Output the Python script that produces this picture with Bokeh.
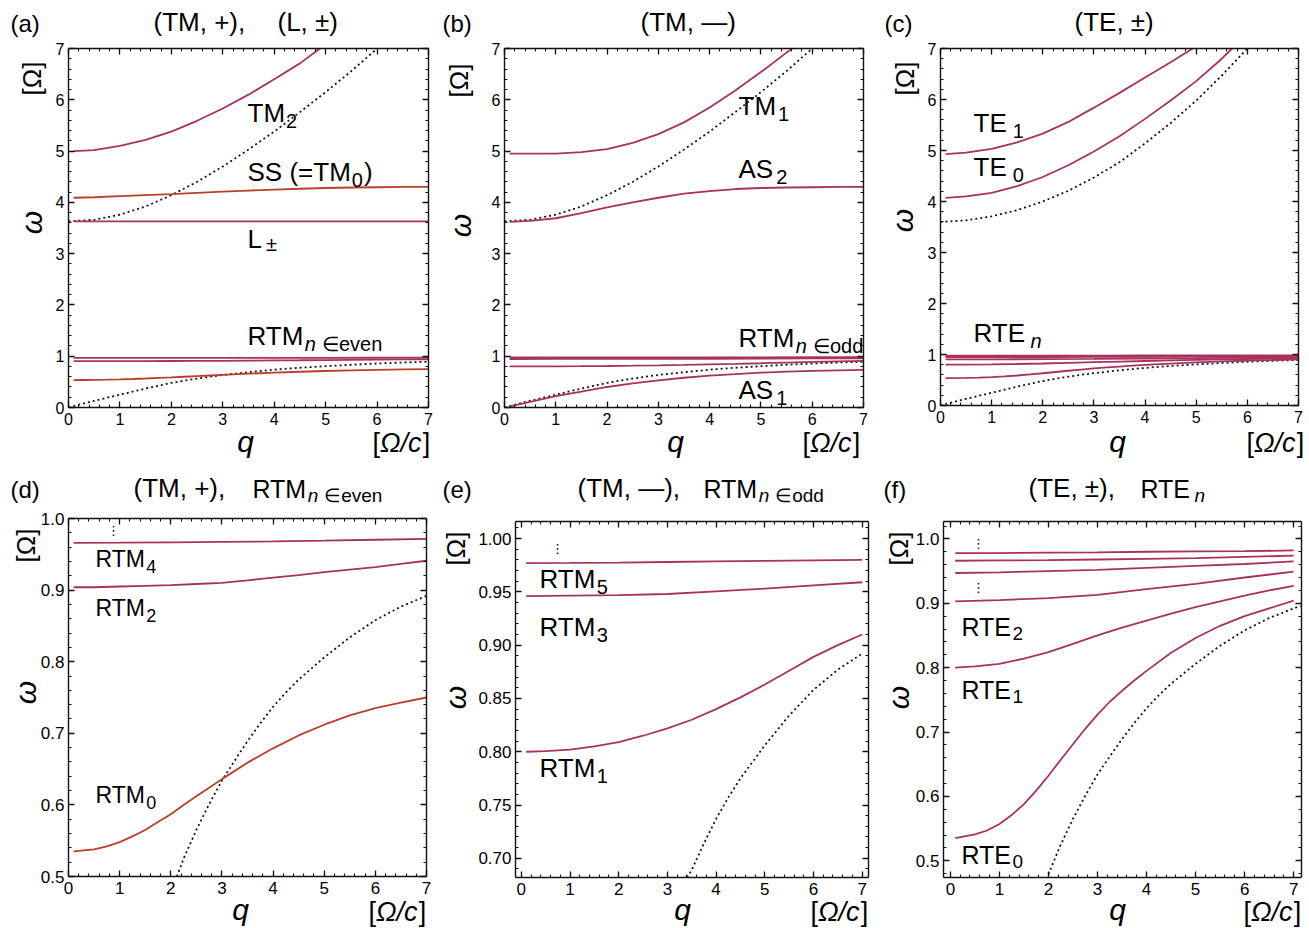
import math
from bokeh.plotting import figure
from bokeh.layouts import column, row
from bokeh.models import (Range1d, LinearAxis, SingleIntervalTicker, Label,
                          NumeralTickFormatter, CustomJSTickFormatter)
from bokeh.embed import file_html
from bokeh.resources import INLINE

# ---------------- data ----------------
# lower light line (dotted) -- full, and as visible in the zoomed panels
LL_Q = [0, 0.5, 1.0, 1.5, 2.0, 2.25, 2.5, 2.75, 3.0, 3.25, 3.5, 3.75, 4.0, 4.25, 4.5, 5.0, 5.5, 6.0, 6.5, 7.0]
LL_W = [0, 0.13, 0.25, 0.37, 0.479, 0.525, 0.565, 0.601, 0.634, 0.662, 0.689, 0.714, 0.737, 0.757, 0.775, 0.806, 0.834, 0.858, 0.877, 0.892]
LLD_Q = [2.12, 2.25, 2.5, 2.75, 3.0, 3.25, 3.5, 3.75, 4.0, 4.25, 4.5, 5.0, 5.5, 6.0, 6.5, 7.0]
LLD_W = [0.500, 0.525, 0.565, 0.601, 0.634, 0.662, 0.689, 0.714, 0.737, 0.757, 0.775, 0.806, 0.834, 0.858, 0.877, 0.892]
LLE_Q = [3.40, 3.5, 3.75, 4.0, 4.25, 4.5, 5.0, 5.5, 6.0, 6.5, 7.0]
LLE_W = [0.682, 0.689, 0.714, 0.737, 0.757, 0.775, 0.806, 0.834, 0.858, 0.877, 0.892]
LLF_Q = [2.0, 2.25, 2.5, 2.75, 3.0, 3.25, 3.5, 3.75, 4.0, 4.25, 4.5, 5.0, 5.5, 6.0, 6.5, 7.0, 7.14]
LLF_W = [0.479, 0.525, 0.565, 0.601, 0.634, 0.662, 0.689, 0.714, 0.737, 0.757, 0.775, 0.806, 0.834, 0.858, 0.877, 0.892, 0.896]
# upper light line (dotted)
UL_Q = [0, 0.5, 1, 1.5, 2, 2.5, 3, 3.5, 4, 4.5, 5, 5.5, 6.0]
UL_W = [3.63, 3.66, 3.76, 3.92, 4.14, 4.40, 4.70, 5.03, 5.38, 5.76, 6.15, 6.56, 7.00]
ULC_W = [3.60, 3.63, 3.71, 3.83, 4.00, 4.21, 4.47, 4.77, 5.14, 5.54, 5.98, 6.47, 7.00]

Q15 = [0.1, 0.5, 1, 1.5, 2, 2.5, 3, 3.5, 4, 4.5, 5, 5.5, 6, 6.5, 7]
Q8 = [0.1, 1, 2, 3, 4, 5, 6, 7]

# (a) TM,+ and L
TM2_Q = [0.1, 0.5, 1, 1.5, 2, 2.5, 3, 3.5, 4, 4.5, 4.89]
TM2_W = [5.00, 5.02, 5.10, 5.22, 5.38, 5.59, 5.83, 6.10, 6.40, 6.71, 7.00]
SS_W = [4.09, 4.10, 4.12, 4.14, 4.16, 4.185, 4.21, 4.23, 4.25, 4.265, 4.28, 4.29, 4.295, 4.30, 4.30]
L_Q = [0.1, 7]
L_W = [3.63, 3.63]
RTM0_Q = [0.1, 0.25, 0.5, 0.75, 1.0, 1.25, 1.5, 1.75, 2.0, 2.25, 2.5, 2.75, 3.0, 3.5, 4.0, 4.5, 5.0, 5.5, 6.0, 6.5, 7.0]
RTM0_W = [0.535, 0.536, 0.538, 0.542, 0.548, 0.556, 0.565, 0.576, 0.587, 0.600, 0.612, 0.624, 0.636, 0.659, 0.679, 0.697, 0.712, 0.725, 0.735, 0.743, 0.750]
RTM2_W = [0.904, 0.904, 0.905, 0.906, 0.907, 0.9085, 0.910, 0.9135, 0.9175, 0.921, 0.925, 0.9285, 0.932, 0.9365, 0.941]
RTM4_W = [0.966, 0.9662, 0.9667, 0.9673, 0.968, 0.969, 0.9703, 0.9716]

# (b) TM,-
TM1_Q = [0.1, 0.5, 1, 1.5, 2, 2.5, 3, 3.5, 4, 4.5, 5, 5.5, 5.61]
TM1_W = [4.95, 4.95, 4.95, 4.98, 5.04, 5.16, 5.33, 5.56, 5.85, 6.18, 6.54, 6.92, 7.00]
AS2_W = [3.62, 3.64, 3.69, 3.79, 3.90, 4.00, 4.09, 4.17, 4.22, 4.26, 4.28, 4.29, 4.295, 4.30, 4.30]
AS1_W = [0.02, 0.11, 0.22, 0.31, 0.40, 0.47, 0.53, 0.58, 0.62, 0.65, 0.68, 0.70, 0.715, 0.725, 0.735]
RTM1_W = [0.800, 0.8005, 0.802, 0.805, 0.809, 0.815, 0.822, 0.830, 0.840, 0.851, 0.863, 0.876, 0.889, 0.900, 0.910]
RTM3_W = [0.946, 0.9465, 0.947, 0.948, 0.9505, 0.953, 0.956, 0.959]
RTM5_W = [0.977, 0.9772, 0.9775, 0.978, 0.9785, 0.979, 0.9795, 0.980]

# (c) TE
TE1_Q = [0.1, 0.5, 1, 1.5, 2, 2.5, 3, 3.5, 4, 4.5, 4.93]
TE1_W = [4.93, 4.96, 5.03, 5.16, 5.33, 5.56, 5.84, 6.13, 6.43, 6.73, 7.00]
TE0_Q = [0.1, 0.5, 1, 1.5, 2, 2.5, 3, 3.5, 4, 4.5, 5, 5.5, 5.70]
TE0_W = [4.07, 4.10, 4.17, 4.30, 4.48, 4.71, 4.98, 5.28, 5.62, 5.98, 6.36, 6.80, 7.00]
RTE0_Q = [0.1, 0.5, 0.75, 1.0, 1.25, 1.5, 1.75, 2.0, 2.25, 2.5, 2.75, 3.0, 3.25, 3.5, 3.75, 4.0, 4.5, 5.0, 5.5, 6.0, 6.5, 7.0]
RTE0_W = [0.535, 0.541, 0.547, 0.557, 0.571, 0.588, 0.609, 0.632, 0.657, 0.681, 0.705, 0.727, 0.747, 0.764, 0.780, 0.795, 0.823, 0.846, 0.865, 0.880, 0.892, 0.904]
RTE1_W = [0.800, 0.802, 0.806, 0.814, 0.824, 0.837, 0.850, 0.862, 0.873, 0.884, 0.894, 0.903, 0.912, 0.920, 0.927]
RTE2_W = [0.903, 0.905, 0.908, 0.913, 0.922, 0.930, 0.940, 0.949]
RTE3_W = [0.947, 0.948, 0.950, 0.952, 0.955, 0.958, 0.961, 0.965]
RTE4_W = [0.966, 0.9665, 0.967, 0.968, 0.969, 0.970, 0.972, 0.974]
RTE5_W = [0.978, 0.978, 0.9785, 0.979, 0.980, 0.9805, 0.981, 0.982]

PINK = "#a8325e"
RED = "#b8402a"
DOT = "#151515"
FONT = "Liberation Sans"

CW = {'T': 611, 'M': 833, 'S': 667, ' ': 278, '(': 333, ')': 333, '=': 584, 'L': 556,
      'R': 722, 'A': 667, 'E': 667, 'n': 556, 'e': 556, 'v': 500, 'o': 556, 'd': 556,
      ',': 278, '+': 584, '\u00b1': 584, '\u2014': 1000, '[': 278, ']': 278,
      '\u03a9': 768, '/': 278, 'c': 500, '\u2208': 640}


def tw(s, size):
    return sum(CW.get(ch, 556) for ch in s) * size / 1000.0


class Panel:
    """A figure whose frame is the whole figure; the visible box is drawn by
    four axes at fixed locations, so texts can sit anywhere in the figure."""

    def __init__(self, left, top, W, H, fx0, fy0, fw, fh, xr, yr, yint, yfmt, tick_size):
        self.fx0, self.fy0, self.fw, self.fh, self.xr, self.yr = fx0, fy0, fw, fh, xr, yr
        sx = (xr[1] - xr[0]) / fw
        sy = (yr[1] - yr[0]) / fh
        self.sx, self.sy = sx, sy
        X0 = xr[0] - (fx0 - left) * sx
        X1 = xr[1] + (left + W - fx0 - fw) * sx
        Y0 = yr[0] - (top + H - fy0 - fh) * sy
        Y1 = yr[1] + (fy0 - top) * sy
        p = figure(width=W, height=H, x_range=Range1d(X0, X1), y_range=Range1d(Y0, Y1),
                   output_backend="svg", toolbar_location=None,
                   x_axis_type=None, y_axis_type=None, min_border=0)
        p.title_location = None
        p.outline_line_color = None
        p.background_fill_color = "white"
        p.border_fill_color = "white"
        xt = SingleIntervalTicker(interval=1, num_minor_ticks=5)
        yt = SingleIntervalTicker(interval=yint, num_minor_ticks=5)
        specs = [("below", xt, True, "0", yr[0], xr),
                 ("left", yt, True, yfmt, xr[0], yr),
                 ("above", xt, False, None, yr[1], xr),
                 ("right", yt, False, None, xr[1], yr)]
        for loc, tick, show, fmt, fixed, bnds in specs:
            ax = LinearAxis(ticker=tick, fixed_location=fixed, bounds=bnds)
            ax.axis_line_color = "#111111"
            ax.axis_line_width = 1.4
            ax.major_tick_in = 6
            ax.major_tick_out = 0
            ax.minor_tick_in = 3
            ax.minor_tick_out = 0
            ax.major_tick_line_color = "#111111"
            ax.minor_tick_line_color = "#111111"
            ax.major_tick_line_width = 1.3
            ax.minor_tick_line_width = 1.1
            if show:
                ax.formatter = NumeralTickFormatter(format=fmt)
                ax.major_label_text_font = FONT
                ax.major_label_text_font_size = f"{tick_size}px"
                ax.major_label_text_color = "black"
                ax.major_label_standoff = 5 if loc == "below" else 4
            else:
                ax.formatter = CustomJSTickFormatter(code="return ''")
                ax.major_label_text_font_size = "1px"
                ax.major_label_standoff = 0
            p.add_layout(ax, loc)
        self.p = p

    def d(self, gx, gy):
        return (self.xr[0] + (gx - self.fx0) * self.sx,
                self.yr[1] - (gy - self.fy0) * self.sy)

    def txt(self, gx, gy, text, size, style="normal", align="left", baseline="alphabetic",
            angle=0.0, font=FONT):
        if baseline == "alphabetic":
            # place by the middle of the text box: baseline lies ~0.35 em below it
            gy = gy - 0.35 * size
            baseline = "middle"
        x, y = self.d(gx, gy)
        self.p.add_layout(Label(x=x, y=y, text=text, text_font=font,
                                text_font_size=f"{size}px", text_font_style=style,
                                text_align=align, text_baseline=baseline, angle=angle,
                                text_color="black"))

    def line(self, q, w, color=PINK, dotted=False):
        if dotted:
            self.p.line(q, w, line_color=DOT, line_width=1.8, line_dash="2 3")
        else:
            self.p.line(q, w, line_color=color, line_width=1.8)

    def axes_text(self, wx, wy, ox, oy, qx, qy, ux, uy):
        self.txt(wx, wy, "\u03c9", 30, "italic", "center", "middle", math.pi / 2)
        self.txt(ox, oy, "[\u03a9]", 26, "normal", "center", "middle", math.pi / 2)
        self.txt(qx, qy, "q", 30, "italic", "center")
        s = 27
        self.txt(ux, uy, "[", s)
        self.txt(ux + tw("[", s), uy, "\u03a9/c", s, "italic")
        self.txt(ux + tw("[\u03a9/c", s) + 1, uy, "]", s)

    def sub(self, gx, gy, main, subs, size, ssize, drop=5, gap=1):
        self.txt(gx, gy, main, size)
        x = gx + tw(main, size) + gap
        for t, st, extra in subs:
            x += extra
            self.txt(x, gy + drop, t, ssize, st)
            x += tw(t, ssize)

    def dots(self, gx, gy):
        self.txt(gx, gy, "\u22ee", 13, "normal", "center", "middle", font="DejaVu Sans")


# ---------------- panels ----------------
A = Panel(0, 0, 436, 464, 68, 48, 360, 359, (0, 7), (0, 7), 1, "0", 16)
B = Panel(436, 0, 436, 464, 504, 48, 359, 359, (0, 7), (0, 7), 1, "0", 16)
C = Panel(872, 0, 436, 464, 940, 48, 358, 357, (0, 7), (0, 7), 1, "0", 16)
D = Panel(0, 464, 436, 464, 68, 518, 358, 358, (0, 7), (0.5, 1.0), 0.1, "0.0", 17)
E = Panel(436, 464, 436, 464, 515, 521, 353, 356, (-0.12, 7.13), (0.682, 1.016), 0.05, "0.00", 17)
F = Panel(872, 464, 436, 464, 943, 521, 358, 356, (-0.14, 7.16), (0.474, 1.027), 0.1, "0.0", 17)

TS = 26  # title size

# (a)
A.line(LL_Q, LL_W, dotted=True)
A.line(UL_Q, UL_W, dotted=True)
A.line(TM2_Q, TM2_W)
A.line(Q15, SS_W, RED)
A.line(L_Q, L_W)
A.line(RTM0_Q, RTM0_W, RED)
A.line(Q15, RTM2_W)
A.line(Q8, RTM4_W)
A.txt(10, 31, "(a)", 24)
A.txt(153, 31, "(TM, +),", TS)
A.txt(277, 31, "(L, \u00b1)", TS)
A.sub(247, 122, "TM", [("2", "normal", 0)], 26, 20)
A.sub(247, 181, "SS (=TM", [("0", "normal", 0)], 26, 20)
A.txt(247 + tw("SS (=TM", 26) + 1 + tw("0", 20) + 1, 181, ")", 26)
A.sub(247, 248, "L", [("\u00b1", "normal", 3)], 26, 20, drop=2)
A.sub(247, 345, "RTM", [("n", "italic", 0), ("\u2208even", "normal", 6)], 26, 20)
A.axes_text(31, 222, 31, 78, 245, 451, 372, 452)

# (b)
B.line(LL_Q, LL_W, dotted=True)
B.line(UL_Q, UL_W, dotted=True)
B.line(TM1_Q, TM1_W)
B.line(Q15, AS2_W)
B.line(Q15, AS1_W)
B.line(Q15, RTM1_W)
B.line(Q8, RTM3_W)
B.line(Q8, RTM5_W)
B.txt(442, 31, "(b)", 24)
B.txt(640, 31, "(TM, \u2014)", TS)
B.sub(738, 115, "TM", [("1", "normal", 1)], 26, 20)
B.sub(738, 178, "AS", [("2", "normal", 2)], 26, 20)
B.sub(738, 347, "RTM", [("n", "italic", 0), ("\u2208odd", "normal", 6)], 26, 20)
B.sub(738, 399, "AS", [("1", "normal", 2)], 26, 20)
B.axes_text(460, 225, 458, 80, 675, 451, 802, 452)

# (c)
C.line(LL_Q, LL_W, dotted=True)
C.line(UL_Q, ULC_W, dotted=True)
C.line(TE1_Q, TE1_W)
C.line(TE0_Q, TE0_W)
C.line(RTE0_Q, RTE0_W)
C.line(Q15, RTE1_W)
C.line(Q8, RTE2_W)
C.line(Q8, RTE3_W)
C.line(Q8, RTE4_W)
C.line(Q8, RTE5_W)
C.txt(884, 31, "(c)", 24)
C.txt(1074, 31, "(TE, \u00b1)", TS)
C.sub(973, 132, "TE", [("1", "normal", 5)], 26, 20)
C.sub(973, 176, "TE", [("0", "normal", 5)], 26, 20)
C.sub(973, 342, "RTE", [("n", "italic", 4)], 26, 20)
C.axes_text(902, 220, 904, 78, 1117, 451, 1246, 452)

# (d)
D.line(LLD_Q, LLD_W, dotted=True)
D.line(RTM0_Q, RTM0_W, RED)
D.line(Q15, RTM2_W)
D.line(Q8, RTM4_W)
D.txt(10, 497, "(d)", 24)
D.txt(133, 497, "(TM, +),", TS)
D.sub(252, 497, "RTM", [("n", "italic", 0), ("\u2208even", "normal", 6)], 25, 19)
D.sub(95, 567, "RTM", [("4", "normal", 0)], 23, 18)
D.sub(95, 616, "RTM", [("2", "normal", 0)], 23, 18)
D.sub(95, 803, "RTM", [("0", "normal", 0)], 23, 18)
D.dots(113, 530)
D.axes_text(25, 692, 25, 545, 240, 919, 368, 921)

# (e)
E.line(LLE_Q, LLE_W, dotted=True)
E.line(Q15, RTM1_W)
E.line(Q8, RTM3_W)
E.line(Q8, RTM5_W)
E.txt(442, 497, "(e)", 24)
E.txt(577, 497, "(TM, \u2014),", TS)
E.sub(703, 497, "RTM", [("n", "italic", 0), ("\u2208odd", "normal", 6)], 25, 19)
E.sub(539, 588, "RTM", [("5", "normal", 0)], 26, 20)
E.sub(539, 636, "RTM", [("3", "normal", 0)], 26, 20)
E.sub(539, 777, "RTM", [("1", "normal", 0)], 26, 20)
E.dots(557, 548)
E.axes_text(455, 697, 455, 548, 682, 919, 810, 921)

# (f)
F.line(LLF_Q, LLF_W, dotted=True)
F.line(RTE0_Q, RTE0_W)
F.line(Q15, RTE1_W)
F.line(Q8, RTE2_W)
F.line(Q8, RTE3_W)
F.line(Q8, RTE4_W)
F.line(Q8, RTE5_W)
F.txt(883, 497, "(f)", 24)
F.txt(1028, 497, "(TE, \u00b1),", TS)
F.sub(1140, 497, "RTE", [("n", "italic", 3)], 25, 19)
F.sub(961, 635, "RTE", [("2", "normal", 0)], 25, 19)
F.sub(961, 698, "RTE", [("1", "normal", 0)], 25, 19)
F.sub(961, 863, "RTE", [("0", "normal", 0)], 25, 19)
F.dots(978, 543)
F.dots(978, 587)
F.axes_text(898, 697, 898, 548, 1117, 919, 1243, 921)

layout = column(row(A.p, B.p, C.p), row(D.p, E.p, F.p))
open("out.html", "w").write(file_html(layout, INLINE))
